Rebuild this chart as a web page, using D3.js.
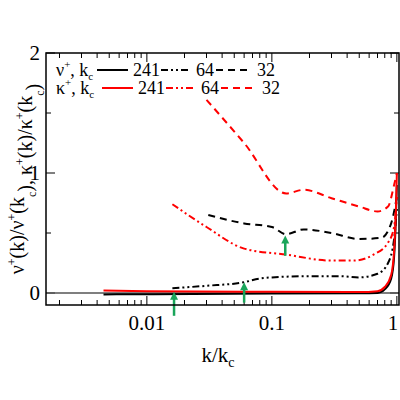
<!DOCTYPE html>
<html><head><meta charset="utf-8">
<script src="https://cdn.jsdelivr.net/npm/d3@7"></script>
<style>body{margin:0;background:#fff}</style>
</head><body><svg id="c" width="400" height="400" font-family="'Liberation Serif','DejaVu Serif',serif"></svg>
<script>
// curves: [k/kc, value]
const nu241 = [[0.0045,-0.012],[0.01,-0.01],[0.1,-0.005],[0.5,-0.003],[0.7,0.0],[0.8,0.03],[0.9,0.12],[0.95,0.3],[0.98,0.6],[1,0.9]];
const nu64 = [[0.016,0.04],[0.03,0.06],[0.06,0.09],[0.08,0.12],[0.1,0.13],[0.2,0.14],[0.35,0.14],[0.5,0.13],[0.7,0.16],[0.85,0.25],[0.95,0.45],[1,0.7]];
const nu32 = [[0.031,0.65],[0.06,0.58],[0.1,0.55],[0.13,0.49],[0.18,0.53],[0.3,0.5],[0.5,0.45],[0.75,0.46],[0.9,0.58],[1,0.8]];
const ka241 = [[0.0045,0.02],[0.01,0.015],[0.1,0.01],[0.5,0.008],[0.7,0.015],[0.8,0.05],[0.9,0.15],[0.95,0.35],[0.98,0.65],[1,1.0]];
const ka64 = [[0.016,0.74],[0.03,0.55],[0.06,0.37],[0.13,0.32],[0.3,0.27],[0.45,0.27],[0.65,0.32],[0.85,0.42],[0.95,0.55],[1,0.8]];
const ka32 = [[0.03,1.61],[0.06,1.25],[0.13,0.83],[0.18,0.86],[0.3,0.79],[0.5,0.72],[0.7,0.68],[0.85,0.72],[0.95,0.9],[1,1.0]];
const arrows = [[0.0165,-0.19,0.01],[0.06,-0.08,0.09],[0.128,0.31,0.48]];
const xTicks = [0.01,0.1,1];
const yTicks = [0,1,2];

const svg = d3.select('#c');
const x = d3.scaleLog().domain([0.00156,1.04]).range([46,399]);
const y = d3.scaleLinear().domain([-0.1,2]).range([305,53]);

// minor ticks
const minor = [];
[0.001,0.01,0.1].forEach(d => { for (let i=2;i<10;i++) minor.push(d*i); });
const g = svg.append('g');
minor.filter(v => v>0.00156 && v<1.04).forEach(v => {
  g.append('line').attr('x1',x(v)).attr('x2',x(v)).attr('y1',305).attr('y2',300).attr('stroke','#000');
  g.append('line').attr('x1',x(v)).attr('x2',x(v)).attr('y1',53).attr('y2',58).attr('stroke','#000');
});
xTicks.forEach(v => {
  g.append('line').attr('x1',x(v)).attr('x2',x(v)).attr('y1',305).attr('y2',296).attr('stroke','#000');
  g.append('line').attr('x1',x(v)).attr('x2',x(v)).attr('y1',53).attr('y2',62).attr('stroke','#000');
  g.append('text').attr('x',Math.min(x(v),393)).attr('y',330).attr('text-anchor','middle').attr('font-size',21).text(v);
});
[0.5,1.5].forEach(v => {
  g.append('line').attr('x1',46).attr('x2',51).attr('y1',y(v)).attr('y2',y(v)).attr('stroke','#000');
  g.append('line').attr('x1',399).attr('x2',394).attr('y1',y(v)).attr('y2',y(v)).attr('stroke','#000');
});
yTicks.forEach(v => {
  g.append('line').attr('x1',46).attr('x2',55).attr('y1',y(v)).attr('y2',y(v)).attr('stroke','#000');
  g.append('line').attr('x1',399).attr('x2',390).attr('y1',y(v)).attr('y2',y(v)).attr('stroke','#000');
  g.append('text').attr('x',40).attr('y',y(v)+7).attr('text-anchor','end').attr('font-size',21).text(v);
});
g.append('line').attr('x1',46).attr('x2',399).attr('y1',y(0)).attr('y2',y(0)).attr('stroke','#555').attr('stroke-width',1.5);

const line = d3.line().x(d => x(d[0])).y(d => y(d[1])).curve(d3.curveMonotoneX);
const series = [
  [nu241,'#000',null],[nu64,'#000','7,3,2,3,2,3'],[nu32,'#000','7,5'],
  [ka241,'#f00',null],[ka64,'#f00','7,3,2,3,2,3'],[ka32,'#f00','7,5']
];
series.forEach(([d,c,dash]) => svg.append('path').attr('d',line(d)).attr('fill','none')
  .attr('stroke',c).attr('stroke-width',2).attr('stroke-dasharray',dash));

arrows.forEach(([k,y0,y1]) => {
  svg.append('line').attr('x1',x(k)).attr('x2',x(k)).attr('y1',y(y0)).attr('y2',y(y1)+6)
    .attr('stroke','#1aa55a').attr('stroke-width',2.5);
  svg.append('path').attr('d',`M${x(k)-4},${y(y1)+8}L${x(k)},${y(y1)}L${x(k)+4},${y(y1)+8}Z`).attr('fill','#1aa55a');
});

svg.append('rect').attr('x',46).attr('y',53).attr('width',353).attr('height',252)
  .attr('fill','none').attr('stroke','#000').attr('stroke-width',1.5);

// legend
const leg = [['ν','#000',76],['κ','#f00',94]];
leg.forEach(([sym,c,yy]) => {
  const t = svg.append('text').attr('x',56).attr('y',yy).attr('font-size',18);
  t.append('tspan').text(sym);
  t.append('tspan').attr('dy',-8).attr('font-size',11).text('+');
  t.append('tspan').attr('dy',8).text(', k');
  t.append('tspan').attr('dy',4).attr('font-size',11).text('c');
});
const legItems = [[97,128,'241',133,null],[161,190,'64',196,'7,3,2,3,2,3'],[216,250,'32',257,'7,5']];
leg.forEach(([s,c,yy],i) => legItems.forEach(([a,b,lab,tx,dash]) => {
  const off = i ? 5 : 0;
  svg.append('line').attr('x1',a+off).attr('x2',b+off).attr('y1',yy-6).attr('y2',yy-6)
    .attr('stroke',c).attr('stroke-width',2).attr('stroke-dasharray',dash);
  svg.append('text').attr('x',tx+off).attr('y',yy).attr('font-size',18).text(lab);
}));

// axis labels
const xl = svg.append('text').attr('x',218).attr('y',362).attr('text-anchor','middle').attr('font-size',21);
xl.append('tspan').text('k/k');
xl.append('tspan').attr('dy',5).attr('font-size',14).text('c');
const yl = svg.append('text').attr('transform','translate(24,179) rotate(-90)').attr('text-anchor','middle').attr('font-size',20);
let last = 0;
[['ν',0],['+',1],['(k)/ν',0],['+',1],['(k',0],['c',2],['), κ',0],['+',1],['(k)/κ',0],['+',1],['(k',0],['c',2],[')',0]].forEach(([t,s]) => {
  const sp = yl.append('tspan').text(t);
  if (s===1) sp.attr('dy',-8).attr('font-size',12);
  else if (s===2) sp.attr('dy',12).attr('font-size',12);
  else sp.attr('dy',last===1?8:(last===2?-4:0));
  last = s;
});
</script></body></html>
